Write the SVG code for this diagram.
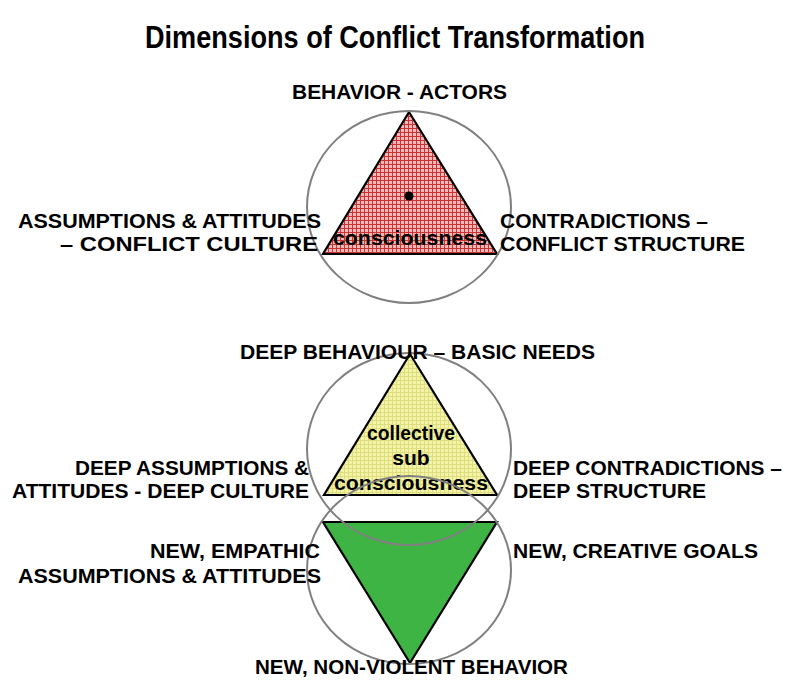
<svg xmlns="http://www.w3.org/2000/svg" width="788" height="682" viewBox="0 0 788 682">
<style>
.t{font-family:"Liberation Sans",Arial,sans-serif;font-weight:bold;fill:#000}
.title{font-size:31px}
.lbl{font-size:21px}
.in{font-size:21px}
.ell{fill:none;stroke:#808080;stroke-width:2}
.tri{stroke:#000;stroke-width:2.2;stroke-linejoin:miter}
</style>
<defs>
<pattern id="redgrid" width="4" height="4" patternUnits="userSpaceOnUse">
<rect width="4" height="4" fill="#f0b8b8"/>
<path d="M0 0.5H4M0.5 0V4" stroke="#c83434" stroke-width="1"/>
</pattern>
<pattern id="yelgrid" width="4" height="4" patternUnits="userSpaceOnUse">
<rect width="4" height="4" fill="#f4f4a8"/>
<path d="M0 0.5H4M0.5 0V4" stroke="#dede80" stroke-width="1"/>
</pattern>
</defs>
<rect width="788" height="682" fill="#fff"/>
<text class="t title" x="395" y="48" text-anchor="middle" textLength="500" lengthAdjust="spacingAndGlyphs">Dimensions of Conflict Transformation</text>

<g id="top-triangle">
<polygon class="tri" points="409,112 323,254 497,254" fill="url(#redgrid)"/>
<circle cx="409" cy="196" r="4.5" fill="#000"/>
<text class="t in" x="410" y="245" text-anchor="middle" textLength="154" lengthAdjust="spacingAndGlyphs">consciousness</text>
</g>
<g id="middle-triangle">
<polygon class="tri" points="410,354 324,495 497,495" fill="url(#yelgrid)"/>
<text class="t in" x="411" y="440" text-anchor="middle" textLength="88" lengthAdjust="spacingAndGlyphs">collective</text>
<text class="t in" x="411" y="465" text-anchor="middle">sub</text>
<text class="t in" x="411" y="490" text-anchor="middle" textLength="154" lengthAdjust="spacingAndGlyphs">consciousness</text>
</g>
<g id="bottom-triangle">
<polygon class="tri" points="323,522 497,522 410,663" fill="#3db444"/>
</g>

<g id="circles">
<ellipse class="ell" cx="409" cy="207" rx="102" ry="96"/>
<ellipse class="ell" cx="409" cy="449" rx="102" ry="96"/>
<ellipse class="ell" cx="409" cy="570" rx="102" ry="94"/>
</g>

<g id="label-behavior">
<text class="t lbl" x="292" y="99" textLength="215" lengthAdjust="spacingAndGlyphs">BEHAVIOR - ACTORS</text>
</g>
<g id="label-assumptions">
<text class="t lbl" x="18" y="228" textLength="303" lengthAdjust="spacingAndGlyphs">ASSUMPTIONS &amp; ATTITUDES</text>
<text class="t lbl" x="60" y="251" textLength="258" lengthAdjust="spacingAndGlyphs">– CONFLICT CULTURE</text>
</g>
<g id="label-contradictions">
<text class="t lbl" x="500" y="228" textLength="208" lengthAdjust="spacingAndGlyphs">CONTRADICTIONS –</text>
<text class="t lbl" x="500" y="251" textLength="245" lengthAdjust="spacingAndGlyphs">CONFLICT STRUCTURE</text>
</g>
<g id="label-deep-behaviour">
<text class="t lbl" x="240" y="359" textLength="355" lengthAdjust="spacingAndGlyphs">DEEP BEHAVIOUR – BASIC NEEDS</text>
</g>
<g id="label-deep-assumptions">
<text class="t lbl" x="75" y="475" textLength="234" lengthAdjust="spacingAndGlyphs">DEEP ASSUMPTIONS &amp;</text>
<text class="t lbl" x="12" y="498" textLength="297" lengthAdjust="spacingAndGlyphs">ATTITUDES - DEEP CULTURE</text>
</g>
<g id="label-deep-contradictions">
<text class="t lbl" x="513" y="475" textLength="269" lengthAdjust="spacingAndGlyphs">DEEP CONTRADICTIONS –</text>
<text class="t lbl" x="513" y="498" textLength="193" lengthAdjust="spacingAndGlyphs">DEEP STRUCTURE</text>
</g>
<g id="label-new-empathic">
<text class="t lbl" x="150" y="558" textLength="170" lengthAdjust="spacingAndGlyphs">NEW, EMPATHIC</text>
<text class="t lbl" x="18" y="583" textLength="303" lengthAdjust="spacingAndGlyphs">ASSUMPTIONS &amp; ATTITUDES</text>
</g>
<g id="label-new-goals">
<text class="t lbl" x="513" y="558" textLength="245" lengthAdjust="spacingAndGlyphs">NEW, CREATIVE GOALS</text>
</g>
<g id="label-new-behavior">
<text class="t lbl" x="255" y="674" textLength="313" lengthAdjust="spacingAndGlyphs">NEW, NON-VIOLENT BEHAVIOR</text>
</g>
<g id="connectors"></g>
</svg>
